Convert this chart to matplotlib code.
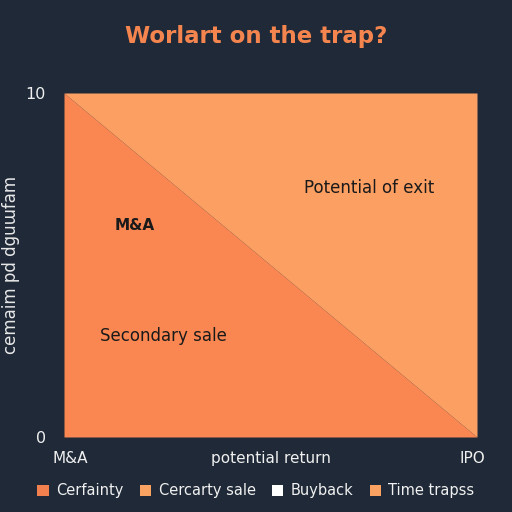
import numpy as np
import matplotlib.pyplot as plt
from matplotlib.patches import Patch

x = [0, 10]
diag = [10, 0]
xticks = [0.15, 5, 9.9]
xlabels = ["M&A", "potential return", "IPO"]
yticks = [0, 10]
legend_names = ["Cerfainty", "Cercarty sale", "Buyback", "Time trapss"]
legend_colors = ["#f2804f", "#f9a262", "#ffffff", "#f9a262"]
zone_labels = ["Potential of exit", "M&A", "Secondary sale"]
zone_x = [7.4, 1.7, 2.4]
zone_y = [7.25, 6.15, 2.95]

bg = "#1f2937"
fig = plt.figure(figsize=(5.12, 5.12), dpi=100, facecolor=bg)
ax = fig.add_axes([64/512, 75/512, 413/512, 344/512])
ax.set_facecolor(bg)

ax.fill_between(x, 0, diag, color="#fa8752", lw=0)
ax.fill_between(x, diag, 10, color="#fc9f62", lw=0)

ax.text(zone_x[0], zone_y[0], zone_labels[0], ha="center", va="center", fontsize=12, color="#1a1a1a")
ax.text(zone_x[1], zone_y[1], zone_labels[1], ha="center", va="center", fontsize=11, color="#1a1a1a", fontweight="bold")
ax.text(zone_x[2], zone_y[2], zone_labels[2], ha="center", va="center", fontsize=12, color="#1a1a1a")

ax.set_xlim(0, 10)
ax.set_ylim(0, 10)
ax.set_xticks(xticks)
ax.set_xticklabels(xlabels)
ax.set_yticks(yticks)
for s in ax.spines.values():
    s.set_visible(False)
ax.tick_params(length=0, colors="#f0f0f0", labelsize=11, pad=10)
ax.tick_params(axis="y", labelsize=11.5, pad=13)

ax.set_ylabel("cemaim pd dguɯfam", fontsize=12, color="#e8e8e8", labelpad=4)

fig.text(0.5, 1 - 37/512, "Worlart on the trap?", ha="center", va="center",
         fontsize=16.5, fontweight="bold", color="#f4854f")

handles = [Patch(facecolor=c, edgecolor="none") for c in legend_colors]
fig.legend(handles, legend_names, loc="center", bbox_to_anchor=(0.5, 1 - 491/512),
           ncol=4, frameon=False, fontsize=10.5, labelcolor="#f0f0f0",
           handlelength=0.8, handleheight=0.8, handletextpad=0.5, columnspacing=1.1)

fig.savefig("out.png", dpi=100, facecolor=bg)
